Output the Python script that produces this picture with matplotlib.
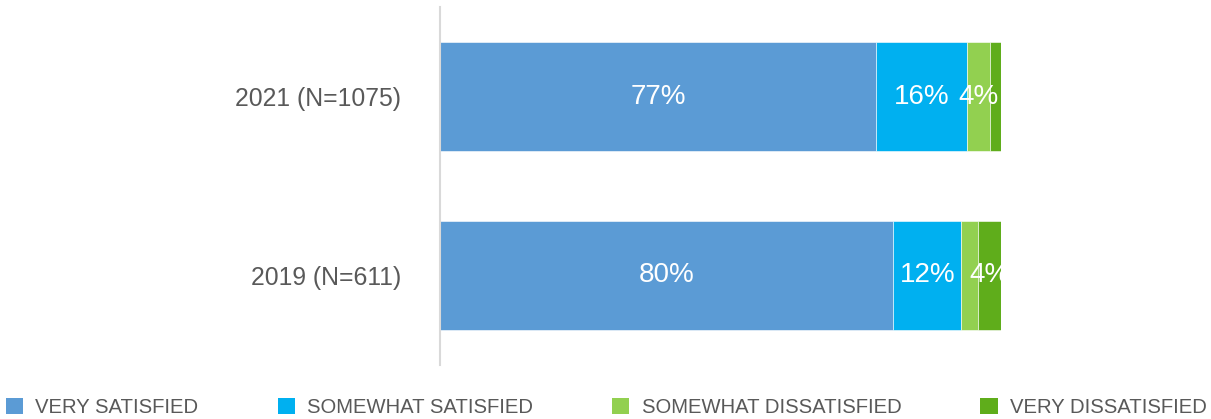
import matplotlib.pyplot as plt
from matplotlib.patches import Patch

plt.rcParams['font.family'] = ['Liberation Sans', 'DejaVu Sans']

# survey data
groups = ['2019 (N=611)', '2021 (N=1075)']
series = ['VERY SATISFIED', 'SOMEWHAT SATISFIED', 'SOMEWHAT DISSATISFIED', 'VERY DISSATISFIED']
very_satisfied = [80, 77]
somewhat_satisfied = [12, 16]
somewhat_dissatisfied = [3, 4]
very_dissatisfied = [4, 2]
# which segments carry a value label
show_label = [[True, True], [True, True], [False, True], [True, False]]

colors = ['#5B9BD5', '#00B0F0', '#92D050', '#5FAD1B']
text_gray = '#595959'

fig = plt.figure(figsize=(12.11, 4.19), dpi=100)
ax = fig.add_axes([440 / 1211, 54 / 419, 561 / 1211, 358 / 419])

values = [very_satisfied, somewhat_satisfied, somewhat_dissatisfied, very_dissatisfied]
left = [0, 0]
for i, vals in enumerate(values):
    ax.barh(groups, vals, left=left, height=0.61, color=colors[i],
            edgecolor='white', linewidth=0.4)
    for j, v in enumerate(vals):
        if show_label[i][j]:
            ax.text(left[j] + v / 2, j, f'{v}%', ha='center', va='center',
                    color='white', fontsize=20, clip_on=True)
    left = [l + v for l, v in zip(left, vals)]

ax.set_xlim(0, 99)
ax.set_ylim(-0.5, 1.5)
ax.set_xticks([])
for s in ['top', 'right', 'bottom']:
    ax.spines[s].set_visible(False)
ax.spines['left'].set_color('#d9d9d9')
ax.spines['left'].set_linewidth(1.5)
ax.tick_params(axis='y', length=0, pad=28, labelsize=17.8, labelcolor=text_gray)

handles = [Patch(facecolor=c, edgecolor='none') for c in colors]
fig.legend(handles, series, loc='lower left', bbox_to_anchor=(6 / 1211, 2 / 419),
           ncol=4, frameon=False, fontsize=14.6, labelcolor=text_gray,
           borderpad=0, borderaxespad=0, handlelength=0.85, handleheight=0.85,
           handletextpad=0.6, columnspacing=3.9)

fig.savefig('out.png', dpi=100)
